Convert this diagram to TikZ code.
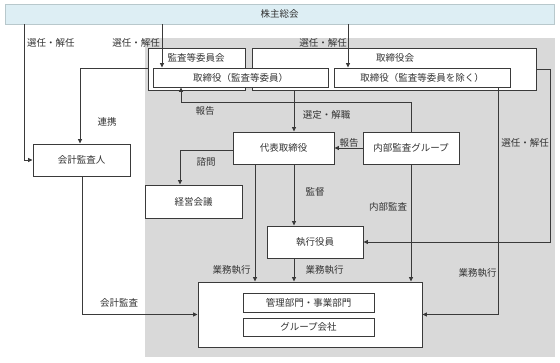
\documentclass[tikz,border=0pt]{standalone}
\usepackage{fontspec}
\setmainfont{Noto Sans CJK JP}
\usetikzlibrary{arrows.meta}
\definecolor{linec}{HTML}{3A3A3A}
\definecolor{textc}{HTML}{333333}
\definecolor{bgray}{HTML}{D9D9D9}
\definecolor{topfill}{HTML}{DDEEF4}
\definecolor{topdraw}{HTML}{B8C8CC}
\tikzset{
  box/.style={draw=linec, line width=0.9pt, fill=white, inner sep=0pt, font=\fontsize{9.5pt}{11pt}\selectfont, text=textc},
  lbl/.style={inner sep=0pt, font=\fontsize{9.5pt}{11pt}\selectfont, text=textc},
  arr/.style={draw=linec, line width=0.8pt, -{Triangle[length=4.5pt,width=4pt]}},
}
\begin{document}
\begin{tikzpicture}[x=1pt,y=-1pt]
\useasboundingbox (0,0) rectangle (560,362);
\fill[white] (0,0) rectangle (560,362);
% gray area
\fill[bgray] (145,38) rectangle (555,357);
% top bar
\node[box, draw=topdraw, fill=topfill, minimum width=549pt, minimum height=20pt] (top) at (279.5,14) {株主総会};
% boxes
\node[box, minimum width=97pt, minimum height=42pt] (kansa) at (196.5,69) {};
\node[box, minimum width=284pt, minimum height=42pt] (torikai) at (394,69) {};
\node[lbl] (kansat) at (196,58) {監査等委員会};
\node[lbl] (torikait) at (395,58) {取締役会};
\node[box, minimum width=175pt, minimum height=19pt] (tk) at (240.5,77.5) {取締役（監査等委員）};
\node[box, minimum width=176pt, minimum height=19pt] (tn) at (422,77.5) {取締役（監査等委員を除く）};
\node[box, minimum width=101pt, minimum height=32pt] (daihyo) at (283.5,148) {代表取締役};
\node[box, minimum width=96pt, minimum height=32pt] (naibu) at (411,148) {内部監査グループ};
\node[box, minimum width=97pt, minimum height=33pt] (keiei) at (193.5,201.5) {経営会議};
\node[box, minimum width=97pt, minimum height=32pt] (kaikei) at (81.5,160) {会計監査人};
\node[box, minimum width=96pt, minimum height=32pt] (shikko) at (315,242) {執行役員};
\node[box, minimum width=224pt, minimum height=65pt] (big) at (310,314.5) {};
\node[box, minimum width=131pt, minimum height=19pt] (kanri) at (308.5,302.5) {管理部門・事業部門};
\node[box, minimum width=131pt, minimum height=18pt] (group) at (308.5,327) {グループ会社};
% helper coordinates
\coordinate (x24) at (24,0);
\coordinate (x162) at (162,0);
\coordinate (x348) at (348,0);
\coordinate (x550) at (550,0);
\coordinate (x498) at (498,0);
\coordinate (r1) at (181,102);
\coordinate (x294) at (294,0);
\coordinate (c9) at (180,150);
\coordinate (c10) at (80,68);
\coordinate (x82) at (82,0);
\coordinate (x255) at (255,0);
% connectors
\draw[arr] (top.south -| x24) |- (kaikei.west);
\draw[arr] (top.south -| x162) -- (tk.north -| x162);
\draw[arr] (top.south -| x348) -- (tn.north -| x348);
\draw[arr] (torikai.east) -- (torikai.east -| x550) |- (shikko.east);
\draw[arr] (tn.south -| x498) |- (big.east);
\draw[arr] (naibu.north) |- (r1) -- (tk.south -| r1);
\draw[arr] (torikai.south -| x294) -- (daihyo.north -| x294);
\draw[arr] (naibu.west) -- (daihyo.east);
\draw[arr] (daihyo.west |- c9) -| (keiei.north -| c9);
\draw[arr] (kansa.west |- c10) -| (kaikei.north -| c10);
\draw[arr] (kaikei.south -| x82) |- (big.west);
\draw[arr] (daihyo.south -| x294) -- (shikko.north -| x294);
\draw[arr] (daihyo.south -| x255) -- (big.north -| x255);
\draw[arr] (shikko.south -| x294) -- (big.north -| x294);
\draw[arr] (naibu.south) -- (big.north -| naibu.south);
% labels
\node[lbl, anchor=west] (l1) at (27,43) {選任・解任};
\node[lbl, anchor=east] (l2) at (160,43) {選任・解任};
\node[lbl, anchor=east] (l3) at (347,43) {選任・解任};
\node[lbl] (l4) at (525,143) {選任・解任};
\node[lbl] (l5) at (205,111) {報告};
\node[lbl] (l6) at (326.5,115) {選定・解職};
\node[lbl] (l7) at (349,143) {報告};
\node[lbl] (l8) at (206,162) {諮問};
\node[lbl] (l9) at (107,122) {連携};
\node[lbl] (l10) at (119,303) {会計監査};
\node[lbl] (l11) at (315,192) {監督};
\node[lbl] (l12) at (388,207) {内部監査};
\node[lbl] (l13) at (231.5,270) {業務執行};
\node[lbl] (l14) at (324.5,270) {業務執行};
\node[lbl] (l15) at (477.5,273) {業務執行};
\end{tikzpicture}
\end{document}
